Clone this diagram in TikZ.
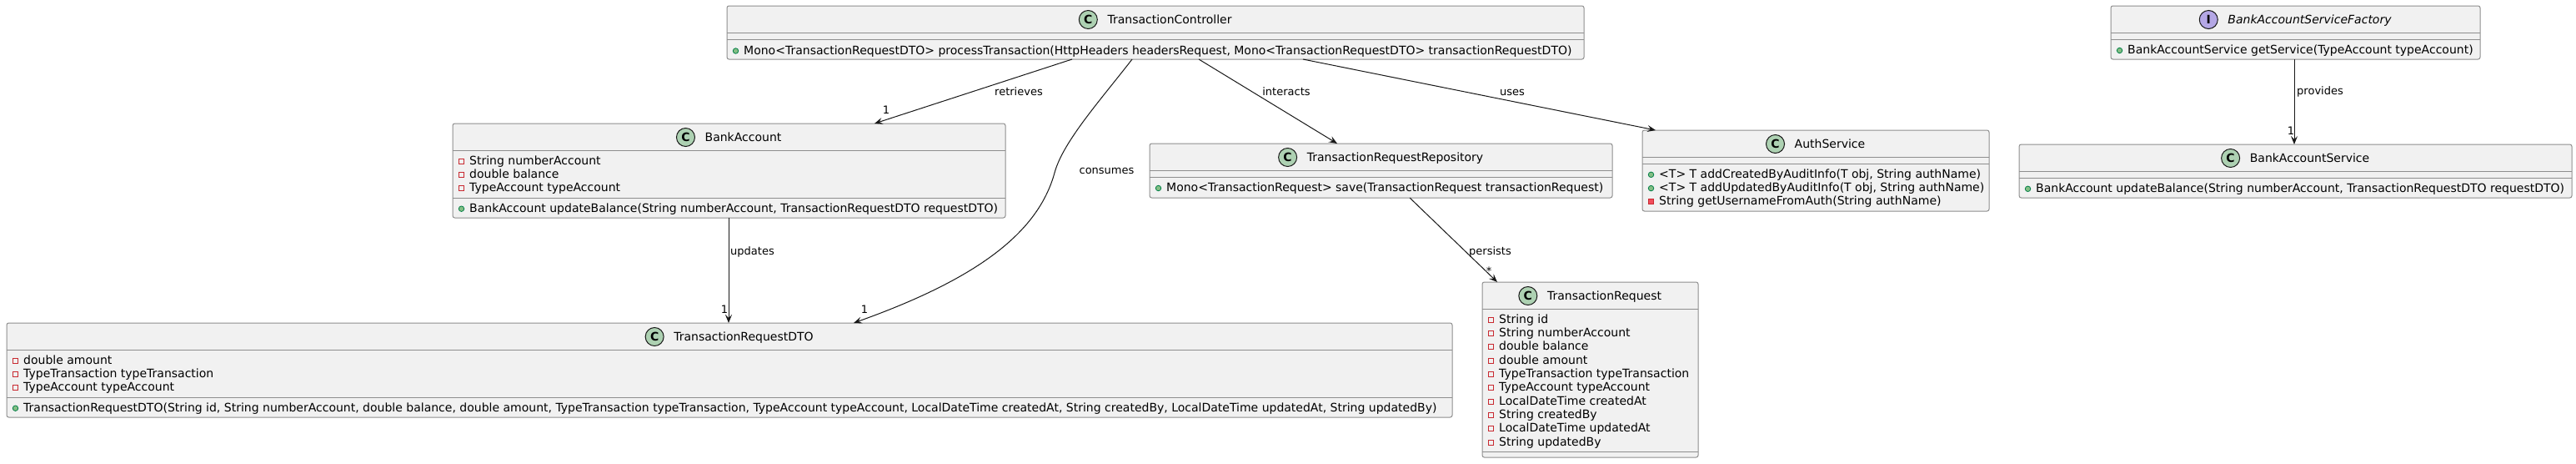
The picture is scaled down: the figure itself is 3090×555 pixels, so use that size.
\documentclass[tikz,border=0pt]{standalone}
\usepackage{fontspec}
\setmainfont{DejaVu Sans}
\usetikzlibrary{arrows.meta,calc}
\definecolor{boxfill}{HTML}{F1F1F1}
\definecolor{sepgray}{HTML}{8E8E8E}
\definecolor{linecol}{HTML}{181818}
\definecolor{cgreen}{HTML}{ADD1B2}
\definecolor{ipurple}{HTML}{B4A7E5}
\definecolor{privred}{HTML}{C82930}
\definecolor{privfill}{HTML}{F24D5C}
\definecolor{pubgreen}{HTML}{038048}
\definecolor{pubfill}{HTML}{84BE84}
\newcommand{\memfont}{\fontsize{14pt}{16pt}\selectfont}
\newcommand{\lblfont}{\fontsize{13pt}{15pt}\selectfont}
\newcommand{\iconfont}{\fontsize{14pt}{14pt}\selectfont\bfseries}
\newcommand{\mbr}[5]{%
  \node[#2] (#1i) at ({#3+10.5},{#4+1}) {};
  \node[mem] (#1) at ({#3+20},{#4+5}) {#5};}
\newcommand{\ttlbox}[6]{%
  \node[ttl] (#1T) at ({#4+17},{#5+5}) {#6};
  \node[#2] (#1I) at ([xshift=-23pt,yshift=5pt]#1T.base west) {#3};}
\begin{document}
\begin{tikzpicture}[x=1pt,y=-1pt,
  cls/.style={draw=sepgray, line width=1pt, fill=boxfill, rounded corners=2.5pt, anchor=north west, inner sep=0pt, outer sep=0pt},
  sepline/.style={draw=sepgray, line width=1pt},
  ttl/.style={font=\memfont, inner sep=0pt, anchor=base},
  mem/.style={font=\memfont, inner sep=0pt, anchor=base west},
  lbl/.style={font=\lblfont, inner sep=0pt, anchor=base},
  lblw/.style={font=\lblfont, inner sep=0pt, anchor=base west},
  assoc/.style={draw=linecol, line width=1pt, -{Stealth[length=10pt,width=8pt,inset=4pt]}},
  cicon/.style={circle, draw=linecol, line width=1pt, fill=cgreen, minimum size=22pt, inner sep=0pt, font=\iconfont},
  iicon/.style={circle, draw=linecol, line width=1pt, fill=ipurple, minimum size=22pt, inner sep=0pt, font=\iconfont},
  pfield/.style={rectangle, draw=privred, line width=1pt, minimum size=6pt, inner sep=0pt},
  pmeth/.style={rectangle, draw=privred, fill=privfill, line width=1pt, minimum size=6pt, inner sep=0pt},
  umeth/.style={circle, draw=pubgreen, fill=pubfill, line width=0.8pt, minimum size=6.5pt, inner sep=0pt}]
\useasboundingbox (0,0) rectangle (3090,555);
\fill[white] (0,0) rectangle (3090,555);

% TransactionController
\node[cls, minimum width=1028pt, minimum height=64pt] (ctrl) at (872,7) {};
\draw[sepline] (872,39.5) -- (1900,39.5);
\draw[sepline] (872,47.5) -- (1900,47.5);
\ttlbox{ctrl}{cicon}{C}{1386}{23.5}{TransactionController}
\mbr{ctrlMa}{umeth}{872}{60}{Mono<TransactionRequestDTO> processTransaction(HttpHeaders headersRequest, Mono<TransactionRequestDTO> transactionRequestDTO)}

% BankAccount
\node[cls, minimum width=663pt, minimum height=113pt] (ba) at (543,148) {};
\draw[sepline] (543,180.5) -- (1206,180.5);
\draw[sepline] (543,237.4) -- (1206,237.4);
\ttlbox{ba}{cicon}{C}{874.5}{164.5}{BankAccount}
\mbr{baFa}{pfield}{543}{192.3}{String numberAccount}
\mbr{baFb}{pfield}{543}{208.6}{double balance}
\mbr{baFc}{pfield}{543}{224.9}{TypeAccount typeAccount}
\mbr{baMa}{umeth}{543}{249.2}{BankAccount updateBalance(String numberAccount, TransactionRequestDTO requestDTO)}

% TransactionRequestRepository
\node[cls, minimum width=555pt, minimum height=65pt] (repo) at (1379,172) {};
\draw[sepline] (1379,204.5) -- (1934,204.5);
\draw[sepline] (1379,212.5) -- (1934,212.5);
\ttlbox{repo}{cicon}{C}{1656.5}{188.5}{TransactionRequestRepository}
\mbr{repoMa}{umeth}{1379}{224.5}{Mono<TransactionRequest> save(TransactionRequest transactionRequest)}

% AuthService
\node[cls, minimum width=416pt, minimum height=97pt] (auth) at (1970,156) {};
\draw[sepline] (1970,188.5) -- (2386,188.5);
\draw[sepline] (1970,196.5) -- (2386,196.5);
\ttlbox{auth}{cicon}{C}{2178}{172.5}{AuthService}
\mbr{authMa}{umeth}{1970}{208.3}{<T> T addCreatedByAuditInfo(T obj, String authName)}
\mbr{authMb}{umeth}{1970}{224.6}{<T> T addUpdatedByAuditInfo(T obj, String authName)}
\mbr{authMc}{pmeth}{1970}{240.9}{String getUsernameFromAuth(String authName)}

% BankAccountServiceFactory
\node[cls, minimum width=443pt, minimum height=64pt] (basf) at (2532,7) {};
\draw[sepline] (2532,39.5) -- (2975,39.5);
\draw[sepline] (2532,47.5) -- (2975,47.5);
\ttlbox{basf}{iicon}{I}{2753.5}{23.5}{\itshape BankAccountServiceFactory}
\mbr{basfMa}{umeth}{2532}{59.5}{BankAccountService getService(TypeAccount typeAccount)}

% BankAccountService
\node[cls, minimum width=663pt, minimum height=64pt] (bas) at (2422,173) {};
\draw[sepline] (2422,205.5) -- (3085,205.5);
\draw[sepline] (2422,213.5) -- (3085,213.5);
\ttlbox{bas}{cicon}{C}{2753.5}{189.5}{BankAccountService}
\mbr{basMa}{umeth}{2422}{225.3}{BankAccount updateBalance(String numberAccount, TransactionRequestDTO requestDTO)}

% TransactionRequestDTO
\node[cls, minimum width=1734pt, minimum height=113pt] (dto) at (8,387) {};
\draw[sepline] (8,419.5) -- (1742,419.5);
\draw[sepline] (8,476.4) -- (1742,476.4);
\ttlbox{dto}{cicon}{C}{875}{403.5}{TransactionRequestDTO}
\mbr{dtoFa}{pfield}{8}{431.3}{double amount}
\mbr{dtoFb}{pfield}{8}{447.6}{TypeTransaction typeTransaction}
\mbr{dtoFc}{pfield}{8}{463.9}{TypeAccount typeAccount}
\mbr{dtoMa}{umeth}{8}{488.2}{TransactionRequestDTO(String id, String numberAccount, double balance, double amount, TypeTransaction typeTransaction, TypeAccount typeAccount, LocalDateTime createdAt, String createdBy, LocalDateTime updatedAt, String updatedBy)}

% TransactionRequest
\node[cls, minimum width=259pt, minimum height=210pt] (tr) at (1778,338) {};
\draw[sepline] (1778,370.5) -- (2037,370.5);
\draw[sepline] (1778,541.5) -- (2037,541.5);
\ttlbox{tr}{cicon}{C}{1907.5}{354.5}{TransactionRequest}
\mbr{trFa}{pfield}{1778}{382.3}{String id}
\mbr{trFb}{pfield}{1778}{398.6}{String numberAccount}
\mbr{trFc}{pfield}{1778}{414.9}{double balance}
\mbr{trFd}{pfield}{1778}{431.2}{double amount}
\mbr{trFe}{pfield}{1778}{447.5}{TypeTransaction typeTransaction}
\mbr{trFf}{pfield}{1778}{463.8}{TypeAccount typeAccount}
\mbr{trFg}{pfield}{1778}{480.1}{LocalDateTime createdAt}
\mbr{trFh}{pfield}{1778}{496.4}{String createdBy}
\mbr{trFi}{pfield}{1778}{512.7}{LocalDateTime updatedAt}
\mbr{trFj}{pfield}{1778}{529.0}{String updatedBy}

% connectors
\draw[assoc] ([xshift=414pt]ctrl.south west) -- ([xshift=506pt]ba.north west);
\draw[assoc] ([xshift=486pt]ctrl.south west) .. controls (1320,120) and (1275,170) .. (1265,207)
   .. controls (1245,280) and (1170,335) .. ([xshift=1016pt]dto.north west);
\draw[assoc] ([xshift=566pt]ctrl.south west) -- ([xshift=225pt]repo.north west);
\draw[assoc] ([xshift=691pt]ctrl.south west) -- ([xshift=16pt]auth.north west);
\draw[assoc] ([xshift=331pt]ba.south west) -- ([xshift=866pt]dto.north west);
\draw[assoc] ([xshift=312pt]repo.south west) -- ([xshift=18pt]tr.north west);
\draw[assoc] ([xshift=220pt]basf.south west) -- ([xshift=330pt]bas.north west);

% labels
\node[lbl] (lretr) at (1222,114.5) {retrieves};
\node[lbl] (linter) at (1543,114.5) {interacts};
\node[lbl] (luses) at (1814,114.5) {uses};
\node[lbl] (lcons) at (1327.5,208.5) {consumes};
\node[lblw] (lupd) at (876,305.5) {updates};
\node[lblw] (lpers) at (1762,305.5) {persists};
\node[lblw] (lprov) at (2755,113.5) {provides};
\node[lbl] (mretr) at (1063,136.5) {1};
\node[lbl] (mupd) at (869,375.5) {1};
\node[lbl] (mcons) at (1037,375.5) {1};
\node[lbl] (mpers) at (1786,329) {*};
\node[lbl] (mprov) at (2748,161.5) {1};
\end{tikzpicture}
\end{document}
